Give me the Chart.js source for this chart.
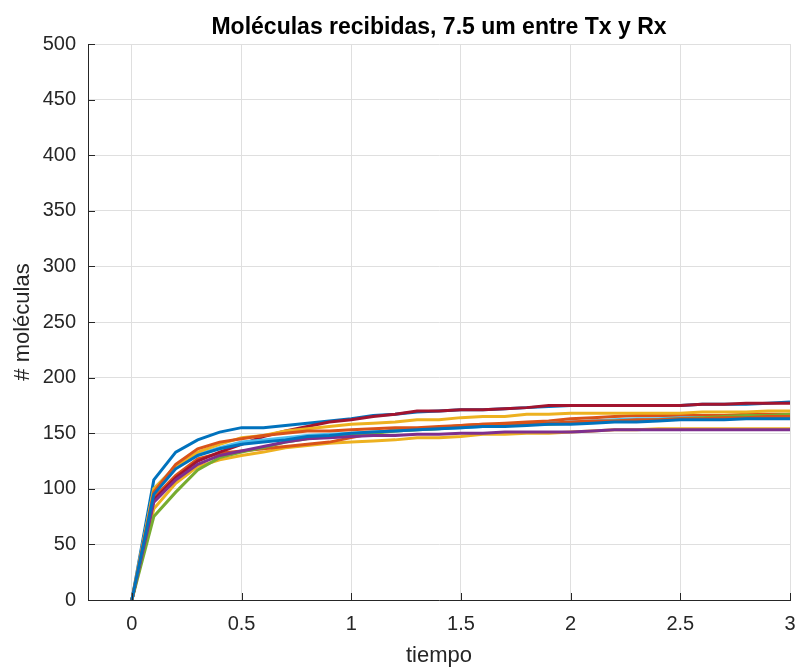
<!DOCTYPE html>
<html>
<head>
<meta charset="utf-8">
<script src="https://cdn.jsdelivr.net/npm/chart.js@4/dist/chart.umd.min.js"></script>
<style>
  body { margin: 0; background: #fff; }
  #wrap { width: 799px; height: 669px; }
</style>
</head>
<body>
<div id="wrap"><canvas id="chart" width="799" height="669"></canvas></div>
<script>
// tiempo 0 .. 3, paso 0.1
const tiempo = [0, 0.1, 0.2, 0.3, 0.4, 0.5, 0.6, 0.7, 0.8, 0.9, 1.0,
    1.1, 1.2, 1.3, 1.4, 1.5, 1.6, 1.7, 1.8, 1.9, 2.0,
    2.1, 2.2, 2.3, 2.4, 2.5, 2.6, 2.7, 2.8, 2.9, 3.0];

const xTicks = [0, 0.5, 1, 1.5, 2, 2.5, 3];
const yTicks = [0, 50, 100, 150, 200, 250, 300, 350, 400, 450, 500];

const titulo = 'Moléculas recibidas, 7.5 um entre Tx y Rx';

// Moléculas recibidas por realización
const serie1 = [0, 95, 118, 130, 136, 140, 142, 144, 147, 148, 150, 151, 152, 153, 154, 155, 156, 156, 157, 158, 158, 159, 160, 160, 161, 162, 162, 162, 163, 163, 163];
const serie2 = [0, 97, 122, 136, 142, 145, 148, 150, 152, 152, 153, 154, 155, 155, 156, 157, 158, 158, 159, 159, 160, 161, 161, 162, 162, 163, 163, 164, 164, 165, 165];
const serie3 = [0, 100, 120, 133, 140, 146, 148, 152, 154, 156, 158, 159, 160, 162, 162, 164, 165, 165, 167, 167, 168, 168, 168, 168, 168, 168, 169, 169, 169, 170, 170];
const serie4 = [0, 88, 108, 122, 130, 134, 138, 142, 145, 146, 147, 148, 148, 149, 149, 150, 150, 151, 151, 151, 151, 152, 153, 153, 153, 153, 153, 153, 153, 153, 153];
const serie5 = [0, 75, 97, 117, 128, 133, 137, 142, 145, 147, 148, 150, 152, 153, 154, 156, 156, 157, 158, 158, 159, 160, 161, 161, 162, 163, 164, 165, 166, 166, 167];
const serie6 = [0, 100, 120, 131, 137, 142, 144, 146, 148, 149, 150, 151, 152, 153, 154, 155, 156, 157, 158, 159, 160, 161, 162, 163, 163, 164, 164, 164, 165, 165, 165];
const serie7 = [0, 90, 110, 125, 133, 140, 147, 152, 156, 160, 162, 165, 167, 170, 170, 171, 171, 172, 173, 175, 175, 175, 175, 175, 175, 175, 176, 176, 177, 177, 177];
const serie8 = [0, 108, 133, 144, 151, 155, 155, 157, 159, 161, 163, 166, 167, 169, 170, 171, 171, 172, 173, 174, 175, 175, 175, 175, 175, 175, 176, 176, 176, 177, 178];
const serie9 = [0, 92, 112, 127, 132, 134, 136, 138, 140, 142, 146, 150, 153, 154, 155, 157, 158, 159, 160, 161, 163, 164, 165, 166, 166, 166, 166, 166, 167, 167, 167];
const serie10 = [0, 82, 105, 120, 126, 130, 133, 137, 139, 141, 142, 143, 144, 146, 146, 147, 149, 149, 150, 150, 151, 152, 153, 153, 154, 154, 154, 154, 154, 154, 154];

const series = [serie1, serie2, serie3, serie4, serie5, serie6, serie7, serie8, serie9, serie10];

// Colores por defecto de MATLAB
const colores = ['#0072BD', '#D95319', '#EDB120', '#7E2F8E', '#77AC30',
    '#4DBEEE', '#A2142F', '#0072BD', '#D95319', '#EDB120'];

const datasets = series.map((s, i) => ({
    label: 'serie ' + (i + 1),
    data: s.map((v, k) => ({ x: tiempo[k], y: v })),
    borderColor: colores[i],
    backgroundColor: colores[i],
    borderWidth: 3,
    pointRadius: 0,
    tension: 0,
    fill: false
}));

const fuente = '"Liberation Sans", Arial, sans-serif';

// Marcas hacia dentro y título centrado sobre el área del gráfico, estilo MATLAB
const estiloMatlab = {
    id: 'estiloMatlab',
    afterDraw(chart) {
        const c = chart.ctx;
        const xs = chart.scales.x, ys = chart.scales.y;
        const area = chart.chartArea;
        c.save();
        c.strokeStyle = '#262626';
        c.lineWidth = 1;
        c.beginPath();
        xTicks.forEach(t => {
            const px = Math.round(xs.getPixelForValue(t)) + 0.5;
            c.moveTo(px, area.bottom);
            c.lineTo(px, area.bottom - 7);
        });
        yTicks.forEach(t => {
            const py = Math.round(ys.getPixelForValue(t)) + 0.5;
            c.moveTo(area.left, py);
            c.lineTo(area.left + 7, py);
        });
        c.stroke();

        c.fillStyle = '#000';
        c.font = 'bold 23px ' + fuente;
        c.textAlign = 'center';
        c.textBaseline = 'middle';
        c.fillText(titulo, (area.left + area.right) / 2, 28);
        c.restore();
    }
};

new Chart(document.getElementById('chart').getContext('2d'), {
    type: 'line',
    data: { datasets: datasets },
    options: {
        responsive: false,
        animation: false,
        layout: { padding: { left: 0, right: 9, top: 44, bottom: 0 } },
        plugins: {
            legend: { display: false },
            tooltip: { enabled: false },
            title: { display: false }
        },
        scales: {
            x: {
                type: 'linear',
                min: -0.2,
                max: 3,
                afterBuildTicks: s => { s.ticks = xTicks.map(v => ({ value: v })); },
                afterFit: s => { s.height = 69; s.paddingRight = 0; s.paddingLeft = 0; },
                grid: { color: '#dfdfdf', drawTicks: false },
                border: { color: '#262626', width: 1 },
                ticks: {
                    color: '#262626',
                    padding: 12,
                    maxRotation: 0,
                    font: { family: fuente, size: 20 },
                    callback: v => String(v)
                },
                title: {
                    display: true,
                    text: 'tiempo',
                    color: '#262626',
                    font: { family: fuente, size: 22 },
                    padding: { top: 4, bottom: 0 }
                }
            },
            y: {
                min: 0,
                max: 500,
                afterBuildTicks: s => { s.ticks = yTicks.map(v => ({ value: v })); },
                afterFit: s => { s.width = 88; },
                grid: { color: '#dfdfdf', drawTicks: false },
                border: { color: '#262626', width: 1 },
                ticks: {
                    color: '#262626',
                    padding: 12,
                    font: { family: fuente, size: 20 }
                },
                title: {
                    display: true,
                    text: '# moléculas',
                    color: '#262626',
                    font: { family: fuente, size: 22 },
                    padding: { top: 10, bottom: 4 }
                }
            }
        }
    },
    plugins: [estiloMatlab]
});
</script>
</body>
</html>
